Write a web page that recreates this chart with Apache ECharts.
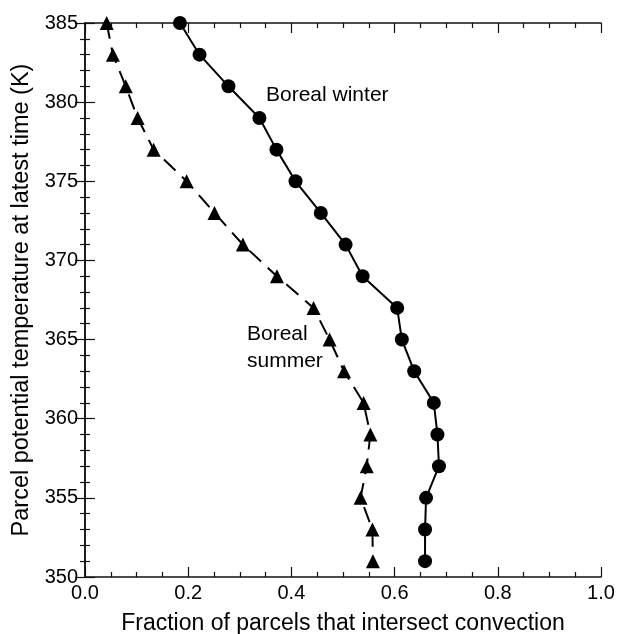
<!DOCTYPE html>
<html>
<head>
<meta charset="utf-8">
<script src="https://cdn.jsdelivr.net/npm/echarts@6/dist/echarts.min.js"></script>
<style>
  html, body { margin: 0; padding: 0; background: #fff; }
  #chart { width: 617px; height: 634px; }
</style>
</head>
<body>
<div id="chart"></div>
<script>
// potential temperature levels (K)
const theta = [385, 383, 381, 379, 377, 375, 373, 371, 369, 367, 365, 363, 361, 359, 357, 355, 353, 351];
// fraction of parcels intersecting convection
const winterFrac = [0.184, 0.222, 0.278, 0.338, 0.371, 0.408, 0.457, 0.505, 0.538, 0.605, 0.614, 0.638, 0.676, 0.683, 0.686, 0.661, 0.659, 0.659];
const summerFrac = [0.042, 0.054, 0.079, 0.102, 0.133, 0.197, 0.251, 0.306, 0.372, 0.443, 0.474, 0.502, 0.540, 0.553, 0.546, 0.534, 0.557, 0.558];

const font = 'Liberation Sans, Arial, Helvetica, sans-serif';

const chart = echarts.init(document.getElementById('chart'));

function pairs(xs) {
    return xs.map((x, i) => [x, theta[i]]);
}

const axisCommon = {
    axisLine: { show: true, lineStyle: { color: '#111', width: 1.5 } },
    axisTick: { show: true, inside: true, length: 10, lineStyle: { color: '#111', width: 1.2 } },
    minorTick: { show: true, length: 5, lineStyle: { color: '#111', width: 1.2 } },
    splitLine: { show: false }
};

chart.setOption({
    animation: false,
    textStyle: { fontFamily: font },
    grid: { left: 85, right: 16, top: 23, bottom: 57, outerBoundsMode: 'none', containLabel: false },
    xAxis: [{
        ...axisCommon,
        type: 'value', min: 0, max: 1, interval: 0.2,
        minorTick: { ...axisCommon.minorTick, splitNumber: 4 },
        axisLabel: { color: '#000', fontSize: 20, margin: 6, formatter: v => v.toFixed(1) },
        name: 'Fraction of parcels that intersect convection',
        nameLocation: 'middle', nameGap: 35,
        nameTextStyle: { color: '#000', fontSize: 23, fontFamily: font }
    }, {
        ...axisCommon,
        type: 'value', min: 0, max: 1, interval: 0.2, position: 'top',
        minorTick: { ...axisCommon.minorTick, splitNumber: 4 },
        axisLabel: { show: false }
    }],
    yAxis: [{
        ...axisCommon,
        type: 'value', min: 350, max: 385, interval: 5,
        minorTick: { ...axisCommon.minorTick, splitNumber: 5 },
        axisLabel: { color: '#000', fontSize: 20, margin: 7 },
        name: 'Parcel potential temperature at latest time (K)',
        nameLocation: 'middle', nameGap: 49,
        nameTextStyle: { color: '#000', fontSize: 23.5, fontFamily: font }
    }, {
        ...axisCommon,
        type: 'value', min: 350, max: 385, interval: 5, position: 'right',
        minorTick: { ...axisCommon.minorTick, splitNumber: 5 },
        axisLabel: { show: false }
    }],
    series: [{
        name: 'Boreal winter',
        type: 'line',
        data: pairs(winterFrac),
        symbol: 'circle', symbolSize: 14,
        itemStyle: { color: '#000' },
        lineStyle: { color: '#000', width: 2 }
    }, {
        name: 'Boreal summer',
        type: 'line',
        data: pairs(summerFrac),
        symbol: 'triangle', symbolSize: 14,
        itemStyle: { color: '#000' },
        lineStyle: { color: '#000', width: 2, type: [16, 9] }
    }],
    graphic: [{
        type: 'text', left: 266, top: 85,
        style: { text: 'Boreal winter', fontSize: 21, fontFamily: font, fill: '#000' }
    }, {
        type: 'text', left: 247, top: 321,
        style: { text: 'Boreal\nsummer', fontSize: 21, lineHeight: 27, fontFamily: font, fill: '#000' }
    }]
});

window.addEventListener('resize', () => chart.resize());
</script>
</body>
</html>
